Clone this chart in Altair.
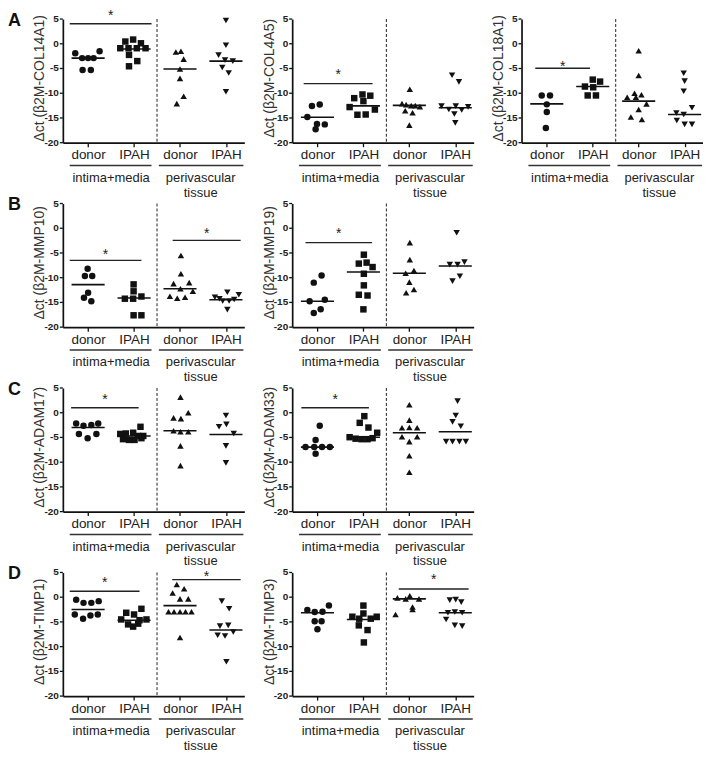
import altair as alt
import pandas as pd

FONT = "Liberation Sans"

# ---------------- categories / labels ----------------
GROUPS = ["intima+media donor", "intima+media IPAH", "perivascular donor", "perivascular IPAH"]
GROUP_POS = [1, 2, 3, 4]
SHAPES = ["circle", "square", "triangle-up", "triangle-down"]
TICK_LABELS = ["donor", "IPAH", "donor", "IPAH"]
REGION_LABELS = ["intima+media", "perivascular\ntissue"]
REGION_CENTER = [1.5, 3.45]
REGION_X1 = [0.6, 2.54]
REGION_X2 = [2.38, 4.38]
Y_TICKS = [-20, -15, -10, -5, 0, 5]
DIVIDER_X = 2.5

# ---------------- data ----------------
# each *_vals / *_dx : [intima donor, intima IPAH, perivascular donor, perivascular IPAH]
# *_sig rows: [bar start, bar end, bar level, asterisk level]
COL14A1_vals = [[-1.9, -1.5, -2.9, -2.9, -2.9, -5.3, -5.3],
                [0.45, 0.85, 0.1, -0.9, -0.9, -0.9, -0.9, -2.25, -3.5, -4.55],
                [-1.65, -1.5, -3.1, -5.1, -7.0, -10.6, -12.1],
                [4.7, -0.3, -2.3, -3.3, -3.5, -4.8, -5.9, -9.7]]
COL14A1_dx = [[-0.28, 0.25, -0.13, 0.0, 0.12, -0.12, 0.06],
              [-0.19, -0.02, 0.15, -0.3, -0.12, 0.06, 0.25, -0.11, 0.07, -0.11],
              [-0.09, 0.02, 0.08, 0.0, 0.0, 0.08, -0.07],
              [0.0, 0.0, -0.16, -0.02, 0.15, -0.08, 0.06, 0.0]]
COL14A1_mid = [-2.9, -1.05, -5.1, -3.5]
COL14A1_sig = [[0.6, 2.38, 4.05, 6.4]]

COL4A5_vals = [[-12.6, -12.3, -14.8, -16.2, -16.3, -17.3],
               [-10.25, -10.5, -11.0, -11.6, -12.8, -13.3, -14.35, -14.3],
               [-9.2, -12.1, -12.3, -12.5, -12.5, -12.7, -13.55, -13.95, -16.45],
               [-6.35, -7.7, -12.6, -13.3, -12.6, -13.4, -12.75, -14.2, -16.0]]
COL4A5_dx = [[-0.12, 0.05, -0.22, -0.01, 0.16, -0.04],
             [-0.02, 0.15, -0.2, 0.0, -0.3, 0.25, -0.13, 0.05],
             [0.01, -0.16, -0.07, 0.04, 0.13, 0.23, -0.09, 0.07, 0.0],
             [-0.07, 0.08, -0.3, -0.14, 0.01, 0.14, 0.28, -0.02, 0.0]]
COL4A5_mid = [-14.85, -12.55, -12.45, -12.95]
COL4A5_sig = [[0.7, 2.2, -8.05, -5.5]]

COL18A1_vals = [[-10.45, -10.45, -12.25, -13.8, -17.05],
                [-7.25, -7.65, -8.65, -8.8, -10.45, -10.45],
                [-1.4, -6.4, -10.0, -10.3, -10.8, -10.8, -12.15, -13.3, -14.8, -15.3],
                [-5.95, -7.55, -9.6, -12.95, -14.0, -14.3, -15.5, -16.3, -16.3]]
COL18A1_dx = [[-0.11, 0.07, 0.0, 0.0, -0.02],
              [0.0, 0.16, -0.17, 0.01, -0.11, 0.07],
              [0.0, 0.0, -0.09, 0.06, -0.25, -0.06, 0.17, 0.0, -0.17, 0.07],
              [-0.02, 0.0, -0.02, 0.16, -0.18, -0.02, -0.17, 0.0, 0.16]]
COL18A1_mid = [-12.15, -8.65, -11.6, -14.3]
COL18A1_sig = [[0.75, 1.94, -4.95, -3.9]]

MMP10_vals = [[-8.2, -9.65, -9.65, -13.05, -14.05, -14.75],
              [-11.35, -12.75, -14.25, -14.25, -13.8, -17.6, -17.6],
              [-5.5, -9.2, -11.2, -11.0, -12.25, -12.75, -13.75, -14.15, -13.95],
              [-12.95, -13.45, -13.95, -14.25, -14.7, -14.7, -14.4, -16.45]]
MMP10_dx = [[-0.01, -0.07, 0.09, 0.0, -0.09, 0.07],
            [-0.01, -0.01, -0.2, -0.02, 0.16, -0.01, 0.16],
            [0.02, 0.02, -0.14, 0.2, 0.01, 0.28, -0.22, -0.06, 0.11],
            [0.03, 0.28, -0.24, -0.14, -0.07, 0.07, 0.18, 0.03]]
MMP10_mid = [-11.4, -14.1, -12.25, -14.45]
MMP10_sig = [[0.6, 2.16, -6.5, -4.65], [2.84, 4.32, -2.45, -0.4]]

MMP19_vals = [[-9.55, -11.0, -14.75, -14.45, -16.4, -17.15],
              [-5.35, -7.15, -6.95, -7.85, -9.2, -11.55, -13.45, -13.6, -16.4],
              [-2.9, -6.35, -9.1, -8.55, -10.9, -12.4, -13.05],
              [-0.9, -7.35, -7.35, -6.85, -10.7, -9.7]]
MMP19_dx = [[0.09, -0.08, -0.17, 0.16, 0.07, -0.08],
            [0.01, -0.1, 0.07, 0.2, 0.01, 0.01, -0.1, 0.09, 0.0],
            [0.01, 0.01, -0.08, 0.1, 0.0, 0.1, -0.07],
            [0.03, -0.12, 0.05, 0.2, -0.06, 0.1]]
MMP19_mid = [-14.75, -8.85, -9.1, -7.65]
MMP19_sig = [[0.74, 2.19, -2.9, -0.3]]

ADAM17_vals = [[-2.2, -2.65, -2.5, -2.2, -4.3, -5.15, -4.3],
               [-2.85, -4.2, -4.3, -4.05, -4.7, -5.35, -5.5, -5.5, -5.15, -4.7],
               [3.15, 0.0, -1.05, -1.2, -3.65, -3.85, -3.85, -6.7, -10.7],
               [-0.55, -2.85, -2.35, -4.2, -6.7, -10.15]]
ADAM17_dx = [[-0.26, -0.1, 0.07, 0.22, -0.2, -0.01, 0.18],
             [0.14, -0.18, -0.3, -0.02, 0.2, -0.24, -0.11, 0.01, 0.16, 0.09],
             [0.01, 0.18, -0.14, 0.02, -0.14, 0.01, 0.18, 0.01, 0.01],
             [0.0, -0.15, 0.01, 0.17, 0.0, 0.0]]
ADAM17_mid = [-3.0, -4.7, -3.65, -4.4]
ADAM17_sig = [[0.63, 2.1, 1.0, 3.45]]

ADAM33_vals = [[-2.65, -5.5, -6.95, -6.95, -6.95, -6.95, -8.3],
               [-0.7, -2.05, -3.0, -4.05, -4.95, -5.25, -5.35, -5.35, -5.15],
               [1.6, -1.5, -3.05, -3.0, -3.05, -4.85, -4.85, -5.85, -8.7, -12.05],
               [2.35, -0.55, -1.85, -2.75, -5.85, -5.85, -5.85, -5.85]]
ADAM33_dx = [[0.05, -0.04, -0.26, -0.07, 0.1, 0.27, -0.04],
             [0.02, -0.08, 0.11, 0.3, -0.3, -0.17, -0.04, 0.09, 0.2],
             [0.0, 0.0, -0.16, 0.0, 0.17, -0.16, 0.17, 0.0, 0.0, 0.0],
             [0.05, 0.01, -0.06, 0.12, -0.2, -0.06, 0.09, 0.23]]
ADAM33_mid = [-6.95, -4.95, -4.05, -3.85]
ADAM33_sig = [[0.65, 2.12, 1.0, 3.45]]

TIMP1_vals = [[-0.5, -1.15, -1.15, -0.8, -3.5, -4.35, -3.7, -3.5],
              [-2.35, -3.15, -3.5, -4.5, -4.5, -5.5, -5.35, -5.95, -4.65],
              [2.55, 1.7, 0.85, -0.35, -0.35, -2.95, -2.95, -2.95, -2.95, -2.95, -8.15],
              [-0.8, -2.35, -5.85, -5.7, -7.7, -7.85, -7.05, -13.05]]
TIMP1_dx = [[-0.26, -0.1, 0.07, 0.23, -0.29, -0.11, 0.05, 0.21],
            [0.16, -0.17, 0.0, -0.28, 0.27, -0.13, 0.09, -0.02, 0.12],
            [-0.07, 0.09, -0.16, 0.0, 0.18, -0.25, -0.13, 0.0, 0.12, 0.25, 0.0],
            [-0.09, 0.07, -0.13, 0.05, -0.18, -0.02, 0.16, 0.01]]
TIMP1_mid = [-2.5, -4.65, -1.7, -6.65]
TIMP1_sig = [[0.6, 2.12, 1.2, 3.65], [2.83, 4.32, 3.55, 4.9]]

TIMP3_vals = [[-2.6, -3.0, -2.95, -1.7, -4.85, -4.85, -6.5],
              [-1.7, -3.3, -3.95, -4.35, -4.35, -3.95, -5.7, -6.65, -9.15],
              [-0.15, -0.35, 0.3, -0.35, -2.0, -2.5, -3.5],
              [-0.6, -0.5, -1.0, -3.15, -3.0, -3.15, -4.5, -5.7, -5.85]]
TIMP3_dx = [[-0.22, -0.06, 0.11, 0.25, -0.06, 0.09, 0.0],
            [0.0, 0.0, -0.24, -0.09, 0.16, 0.29, -0.1, 0.09, 0.01],
            [-0.26, -0.08, 0.01, 0.21, 0.07, 0.07, -0.3],
            [-0.12, 0.01, 0.13, -0.16, -0.01, 0.15, -0.2, -0.01, 0.15]]
TIMP3_mid = [-3.15, -4.5, -0.35, -3.15]
TIMP3_sig = [[2.77, 4.29, 1.65, 4.3]]

# ---------------- layout / style ----------------
W, H = 182, 124
XDOM = [0.45, 4.4]
YDOM = [-20, 5]
HALF = 0.36
INK = "#111111"
TXT = "#222222"

x_label_expr = "[" + ",".join("'%s'" % t for t in [""] + TICK_LABELS) + "][datum.value]"


def panel(gene, vals, dxs, mids, sigs, letter=None):
    rows = []
    for i in range(4):
        for v, d in zip(vals[i], dxs[i]):
            rows.append({"g": GROUPS[i], "x": GROUP_POS[i] + d, "y": v})
    pts = pd.DataFrame(rows)

    xsc = alt.Scale(domain=XDOM, nice=False, zero=False)
    ysc = alt.Scale(domain=YDOM, nice=False, zero=False)
    xax = alt.Axis(values=GROUP_POS, labelExpr=x_label_expr, title=None)
    # y axis: domain line + title from the axis; ticks/labels drawn below through the y scale
    yax = alt.Axis(values=Y_TICKS, ticks=False, labels=False,
                   title="Δct (β2M-%s)" % gene)

    def X(f):
        return alt.X(f, scale=xsc, axis=xax)

    def Y(f):
        return alt.Y(f, scale=ysc, axis=yax)

    points = alt.Chart(pts).mark_point(filled=True, opacity=1, size=42, color=INK,
                                       strokeWidth=0).encode(
        x=X("x:Q"), y=Y("y:Q"),
        shape=alt.Shape("g:N", scale=alt.Scale(domain=GROUPS, range=SHAPES), legend=None),
    )

    yt = pd.DataFrame({"y": Y_TICKS, "t": [str(v) for v in Y_TICKS]})
    ytick = alt.Chart(yt).mark_rule(color=INK, strokeWidth=1.3).encode(
        x=alt.value(-3), x2=alt.value(0), y=Y("y:Q"))
    ylab = alt.Chart(yt).mark_text(align="right", baseline="middle", fontSize=10,
                                   fontWeight="bold", font=FONT, color=TXT).encode(
        x=alt.value(-4), y=Y("y:Q"), text="t:N")

    med = pd.DataFrame({"x1": [p - HALF for p in GROUP_POS],
                        "x2": [p + HALF for p in GROUP_POS], "y": mids})
    med_l = alt.Chart(med).mark_rule(color=INK, strokeWidth=1.6).encode(
        x=X("x1:Q"), x2="x2:Q", y=Y("y:Q"))

    div = pd.DataFrame({"x": [DIVIDER_X], "y1": [YDOM[1]], "y2": [YDOM[0]]})
    div_l = alt.Chart(div).mark_rule(color=TXT, strokeWidth=1, strokeDash=[3, 2]).encode(
        x=X("x:Q"), y=Y("y1:Q"), y2="y2:Q")

    sig = pd.DataFrame(sigs, columns=["x1", "x2", "y", "ys"])
    sig["xm"] = (sig["x1"] + sig["x2"]) / 2
    sig_l = alt.Chart(sig).mark_rule(color=TXT, strokeWidth=1.4).encode(
        x=X("x1:Q"), x2="x2:Q", y=Y("y:Q"))
    star = alt.Chart(sig).mark_text(text="*", fontSize=14, dy=4, baseline="middle",
                                    font=FONT, color=TXT).encode(
        x=X("xm:Q"), y=Y("ys:Q"))

    reg = pd.DataFrame({"x1": REGION_X1, "x2": REGION_X2, "xc": REGION_CENTER,
                        "t": REGION_LABELS, "y": [YDOM[0]] * 2})
    reg_l = alt.Chart(reg).mark_rule(color="#333333", strokeWidth=1.5, yOffset=23).encode(
        x=X("x1:Q"), x2="x2:Q", y=Y("y:Q"))
    reg_t = alt.Chart(reg).mark_text(baseline="top", dy=29, fontSize=13, lineBreak="\n",
                                     lineHeight=15, font=FONT, color=TXT).encode(
        x=X("xc:Q"), y=Y("y:Q"), text="t:N")

    layers = [points, ytick, ylab, med_l, div_l, sig_l, star, reg_l, reg_t]
    if letter:
        lt = alt.Chart(pd.DataFrame({"t": [letter]})).mark_text(
            x=-55, y=-7, align="left", baseline="top", fontSize=18, fontWeight="bold",
            font=FONT, color=INK).encode(text="t:N")
        layers.append(lt)
    return alt.layer(*layers).properties(width=W, height=H)


blank = alt.Chart(pd.DataFrame({"v": [0]})).mark_point(opacity=0).encode(
    x=alt.X("v:Q", axis=None), y=alt.Y("v:Q", axis=None)).properties(width=W, height=H)

panels = [
    panel("COL14A1", COL14A1_vals, COL14A1_dx, COL14A1_mid, COL14A1_sig, "A"),
    panel("COL4A5", COL4A5_vals, COL4A5_dx, COL4A5_mid, COL4A5_sig),
    panel("COL18A1", COL18A1_vals, COL18A1_dx, COL18A1_mid, COL18A1_sig),
    panel("MMP10", MMP10_vals, MMP10_dx, MMP10_mid, MMP10_sig, "B"),
    panel("MMP19", MMP19_vals, MMP19_dx, MMP19_mid, MMP19_sig),
    blank,
    panel("ADAM17", ADAM17_vals, ADAM17_dx, ADAM17_mid, ADAM17_sig, "C"),
    panel("ADAM33", ADAM33_vals, ADAM33_dx, ADAM33_mid, ADAM33_sig),
    blank,
    panel("TIMP1", TIMP1_vals, TIMP1_dx, TIMP1_mid, TIMP1_sig, "D"),
    panel("TIMP3", TIMP3_vals, TIMP3_dx, TIMP3_mid, TIMP3_sig),
    blank,
]

chart = (
    alt.concat(*panels, columns=3, spacing={"row": 61, "column": 48}, bounds="flush")
    .properties(padding=0)
    .configure_view(stroke=None)
    .configure_axis(grid=False, domainColor=INK, domainWidth=1.7, tickColor=INK,
                    tickWidth=1.3, labelOverlap=False, labelFlush=False,
                    labelColor=TXT, labelFont=FONT)
    .configure_axisX(tickSize=4, labelFontSize=13.5, labelPadding=1)
    .configure_axisY(titleFont=FONT, titleFontSize=14, titleFontWeight="normal",
                     titleColor="#333333", titleX=-16, titleY=59, titleAngle=-90,
                     titleBaseline="bottom", titleAlign="center")
)

chart.save("out.html", embed_options={"renderer": "svg", "actions": False})
